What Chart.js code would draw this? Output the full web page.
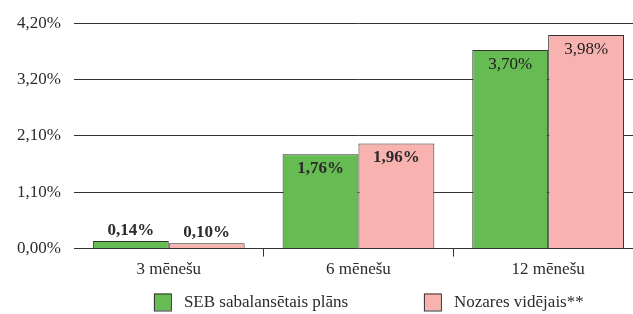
<!DOCTYPE html>
<html>
<head>
<meta charset="utf-8">
<script src="https://cdn.jsdelivr.net/npm/chart.js@4.4.1/dist/chart.umd.min.js"></script>
<style>
  html, body { margin: 0; padding: 0; background: #fff; overflow: hidden; }
  #wrap { width: 643px; height: 314px; position: relative; }
</style>
</head>
<body>
<div id="wrap"><canvas id="c"></canvas></div>
<script>
const categories = ['3 mēnešu', '6 mēnešu', '12 mēnešu'];
const sebValues = [0.14, 1.76, 3.70];
const industryValues = [0.10, 1.96, 3.98];
const seriesNames = ['SEB sabalansētais plāns', 'Nozares vidējais**'];
const yTickValues = [0, 1.05, 2.1, 3.15, 4.2];
const yTickLabels = ['0,00%', '1,10%', '2,10%', '3,20%', '4,20%'];

const FONT = "'Liberation Serif', 'Times New Roman', serif";
const TEXT = '#2b2b2b';
const GREEN = '#66bc52';
const PINK = '#f8b3b0';
const EDGE = '#333333';

const fmt = v => v.toFixed(2).replace('.', ',') + '%';

const valueLabels = {
  id: 'valueLabels',
  afterDatasetsDraw(chart) {
    const ctx = chart.ctx;
    ctx.save();
    ctx.textAlign = 'center';
    chart.data.datasets.forEach((ds, di) => {
      const meta = chart.getDatasetMeta(di);
      meta.data.forEach((bar, i) => {
        const v = ds.data[i];
        const weight = i === 2 ? 'normal' : 'bold';
        ctx.fillStyle = i === 2 ? '#1e1e1e' : TEXT;
        ctx.font = weight + ' 17px ' + FONT;
        if (v < 0.5) {
          ctx.textBaseline = 'bottom';
          ctx.fillText(fmt(v), bar.x, bar.y - 2);
        } else {
          ctx.textBaseline = 'top';
          ctx.fillText(fmt(v), bar.x, bar.y + 6);
        }
      });
    });
    ctx.restore();
  }
};

const customLegend = {
  id: 'customLegend',
  afterDraw(chart) {
    const ctx = chart.ctx;
    const a = chart.chartArea;
    const offsets = [80, 350];
    const gaps = [30, 30];
    const cy = chart.height - 12;
    ctx.save();
    ctx.font = '17px ' + FONT;
    ctx.textBaseline = 'middle';
    ctx.textAlign = 'left';
    chart.data.datasets.forEach((ds, di) => {
      const x = a.left + offsets[di];
      ctx.fillStyle = ds.backgroundColor;
      ctx.fillRect(x, cy - 8.5, 17, 17);
      ctx.strokeStyle = EDGE;
      ctx.lineWidth = 1;
      ctx.strokeRect(x + 0.5, cy - 8.5 + 0.5, 17, 17);
      ctx.fillStyle = TEXT;
      ctx.fillText(ds.label, x + gaps[di], cy + 1);
    });
    ctx.restore();
  }
};

new Chart(document.getElementById('c'), {
  type: 'bar',
  data: {
    labels: categories,
    datasets: [
      { label: seriesNames[0], data: sebValues, backgroundColor: GREEN, borderColor: EDGE, borderWidth: 1 },
      { label: seriesNames[1], data: industryValues, backgroundColor: PINK, borderColor: EDGE, borderWidth: 1 }
    ]
  },
  options: {
    responsive: true,
    maintainAspectRatio: false,
    animation: false,
    layout: { padding: { left: 4, right: 0, top: 15, bottom: 31 } },
    plugins: {
      legend: { display: false },
      tooltip: { enabled: false }
    },
    datasets: { bar: { categoryPercentage: 0.8, barPercentage: 1.0 } },
    scales: {
      x: {
        offset: true,
        border: { display: false },
        grid: {
          offset: true,
          drawOnChartArea: false,
          drawTicks: true,
          tickLength: 8,
          tickColor: c => c.index === 0 ? 'rgba(0,0,0,0)' : EDGE,
          lineWidth: 1
        },
        ticks: { color: TEXT, font: { family: FONT, size: 17 }, padding: 3 }
      },
      y: {
        min: 0,
        max: 4.2,
        border: { display: false },
        afterBuildTicks: s => { s.ticks = yTickValues.map(v => ({ value: v })); },
        grid: { color: EDGE, lineWidth: 1, drawTicks: false },
        ticks: {
          color: TEXT,
          font: { family: FONT, size: 17 },
          padding: 13,
          callback: (v, i) => yTickLabels[i]
        }
      }
    }
  },
  plugins: [valueLabels, customLegend]
});
</script>
</body>
</html>
